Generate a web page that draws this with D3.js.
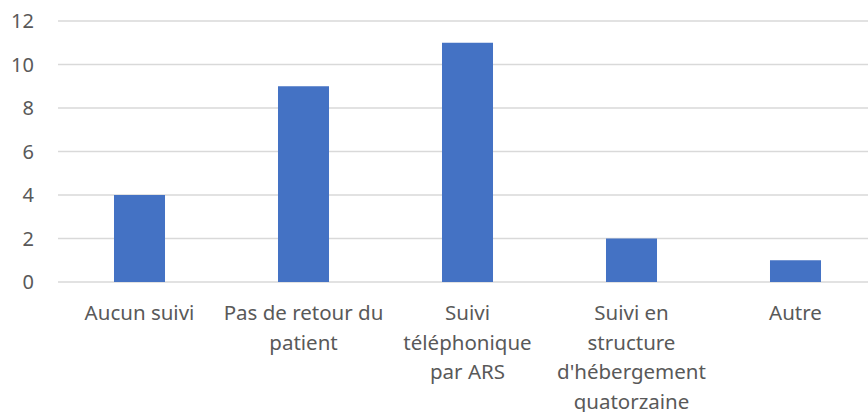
<meta charset="utf-8">
<style>body { margin: 0; } svg { display: block; }</style>
<svg width="868" height="412"></svg>
<script src="https://d3js.org/d3.v7.min.js"></script>
<script>
var categories = ["Aucun suivi", "Pas de retour du patient", "Suivi téléphonique par ARS",
  "Suivi en structure d'hébergement quatorzaine", "Autre"];
var labelLines = [
  ["Aucun suivi"],
  ["Pas de retour du", "patient"],
  ["Suivi", "téléphonique", "par ARS"],
  ["Suivi en", "structure", "d'hébergement", "quatorzaine"],
  ["Autre"]
];
var values = [4, 9, 11, 2, 1];
var yTicks = [0, 2, 4, 6, 8, 10, 12];

var svg = d3.select("svg");
var font = "'Noto Sans', sans-serif";
var textColor = "#595959";

var x = d3.scaleBand()
  .domain(categories)
  .range([57.5, 877.5])
  .paddingInner(0.689)
  .paddingOuter(0.3445);

var y = d3.scaleLinear()
  .domain([0, 12])
  .range([282, 21]);

// gridlines
svg.append("g")
  .selectAll("line")
  .data(yTicks)
  .enter().append("line")
    .attr("x1", 58)
    .attr("x2", 868)
    .attr("y1", function(d) { return y(d); })
    .attr("y2", function(d) { return y(d); })
    .attr("stroke", "#d9d9d9")
    .attr("stroke-width", 1.5);

// y labels
svg.append("g")
  .selectAll("text")
  .data(yTicks)
  .enter().append("text")
    .attr("x", 34)
    .attr("y", function(d) { return y(d); })
    .attr("dy", "0.35em")
    .attr("text-anchor", "end")
    .attr("font-family", font)
    .attr("font-size", "20px")
    .attr("fill", textColor)
    .text(function(d) { return d; });

// bars
svg.append("g")
  .selectAll("rect")
  .data(values)
  .enter().append("rect")
    .attr("x", function(d, i) { return x(categories[i]); })
    .attr("y", function(d) { return y(d); })
    .attr("width", x.bandwidth())
    .attr("height", function(d) { return y(0) - y(d); })
    .attr("fill", "#4472c4");

// x labels
var lbl = svg.append("g")
  .selectAll("text")
  .data(categories)
  .enter().append("text")
    .attr("x", function(d) { return x(d) + x.bandwidth() / 2; })
    .attr("y", 320)
    .attr("text-anchor", "middle")
    .attr("font-family", font)
    .attr("font-size", "20.5px")
    .attr("fill", textColor);

lbl.selectAll("tspan")
  .data(function(d, i) { return labelLines[i]; })
  .enter().append("tspan")
    .attr("x", function() { return d3.select(this.parentNode).attr("x"); })
    .attr("dy", function(d, i) { return i == 0 ? 0 : 29.5; })
    .text(function(d) { return d; });
</script>
